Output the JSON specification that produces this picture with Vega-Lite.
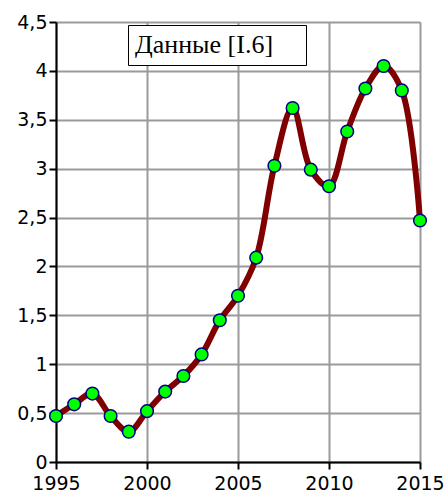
{
  "$schema": "https://vega.github.io/schema/vega-lite/v6.json",
  "width": 364,
  "height": 440,
  "autosize": {"type": "none"},
  "padding": {"left": 56, "top": 22, "right": 26, "bottom": 33},
  "background": "white",
  "config": {
    "view": {"stroke": null},
    "axis": {
      "labelFont": "DejaVu Sans",
      "labelFontSize": 19,
      "labelColor": "black",
      "domainColor": "black",
      "domainWidth": 2,
      "tickColor": "black",
      "tickWidth": 2,
      "tickSize": 7,
      "gridColor": "#9a9a9a",
      "gridWidth": 2,
      "gridOpacity": 1,
      "title": null
    }
  },
  "data": {
    "values": [
      {"year": 1995, "value": 0.47},
      {"year": 1996, "value": 0.59},
      {"year": 1997, "value": 0.70},
      {"year": 1998, "value": 0.47},
      {"year": 1999, "value": 0.31},
      {"year": 2000, "value": 0.52},
      {"year": 2001, "value": 0.72},
      {"year": 2002, "value": 0.88},
      {"year": 2003, "value": 1.10},
      {"year": 2004, "value": 1.45},
      {"year": 2005, "value": 1.70},
      {"year": 2006, "value": 2.09},
      {"year": 2007, "value": 3.03},
      {"year": 2008, "value": 3.62},
      {"year": 2009, "value": 2.99},
      {"year": 2010, "value": 2.82},
      {"year": 2011, "value": 3.38},
      {"year": 2012, "value": 3.82},
      {"year": 2013, "value": 4.05},
      {"year": 2014, "value": 3.80},
      {"year": 2015, "value": 2.47}
    ]
  },
  "encoding": {
    "x": {
      "field": "year",
      "type": "quantitative",
      "scale": {"domain": [1995, 2015], "nice": false, "zero": false},
      "axis": {
        "values": [1995, 2000, 2005, 2010, 2015],
        "format": "d",
        "labelPadding": 5,
        "labelOverlap": false,
        "labelBound": false,
        "labelFlush": false
      }
    },
    "y": {
      "field": "value",
      "type": "quantitative",
      "scale": {"domain": [0, 4.5], "nice": false},
      "axis": {
        "values": [0, 0.5, 1, 1.5, 2, 2.5, 3, 3.5, 4, 4.5],
        "labelExpr": "replace(format(datum.value, '~g'), '.', ',')",
        "labelPadding": 2,
        "labelOverlap": false,
        "labelBound": false,
        "labelFlush": false
      }
    }
  },
  "layer": [
    {
      "mark": {"type": "line", "interpolate": "catmull-rom", "strokeWidth": 6},
      "encoding": {
        "color": {
          "datum": "Данные [I.6]",
          "type": "nominal",
          "scale": {"range": ["#800000"]},
          "legend": {
            "title": "Данные [I.6]",
            "titleOrient": "left",
            "titleFont": "Liberation Serif",
            "titleFontSize": 26,
            "titleFontWeight": "normal",
            "titleColor": "black",
            "titlePadding": 0,
            "titleLimit": 400,
            "orient": "none",
            "legendX": 72,
            "legendY": 3,
            "labelExpr": "''",
            "labelFontSize": 25,
            "symbolType": "circle",
            "symbolSize": 0,
            "symbolStrokeWidth": 0,
            "symbolOpacity": 0,
            "labelOffset": 0,
            "padding": 7,
            "strokeColor": "black",
            "fillColor": "white"
          }
        }
      }
    },
    {
      "mark": {
        "type": "point",
        "filled": true,
        "fill": "#00ff00",
        "stroke": "#000080",
        "strokeWidth": 1.5,
        "size": 160,
        "opacity": 1
      }
    }
  ]
}
